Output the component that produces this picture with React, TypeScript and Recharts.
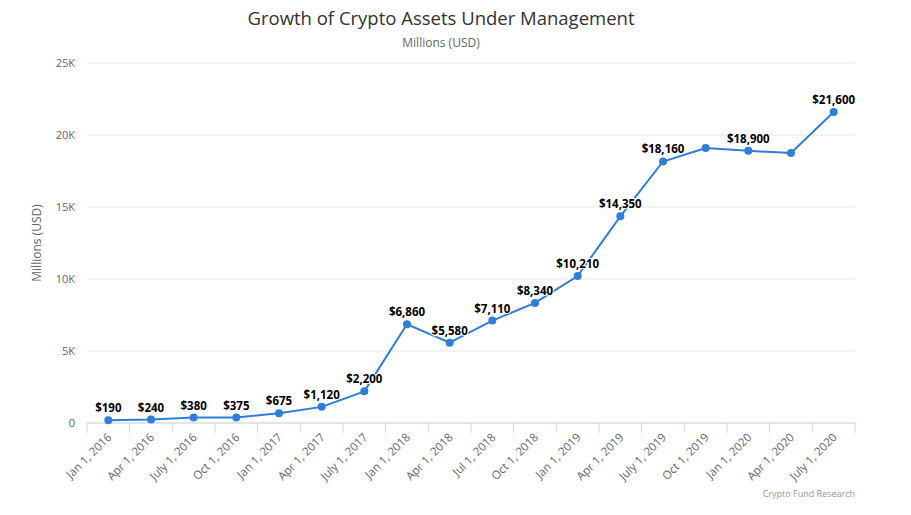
import React from "react";
import { LineChart, Line, XAxis, YAxis, CartesianGrid, LabelList } from "recharts";

const categories = [
  "Jan 1, 2016", "Apr 1, 2016", "July 1, 2016", "Oct 1, 2016",
  "Jan 1, 2017", "Apr 1, 2017", "July 1, 2017", "Jan 1, 2018",
  "Apr 1, 2018", "Jul 1, 2018", "Oct 1, 2018", "Jan 1, 2019",
  "Apr 1, 2019", "July 1, 2019", "Oct 1, 2019", "Jan 1, 2020",
  "Apr 1, 2020", "July 1, 2020",
];

const aum = [
  190, 240, 380, 375, 675, 1120, 2200, 6860, 5580, 7110,
  8340, 10210, 14350, 18160, 19100, 18900, 18750, 21600,
];

// labels hidden where they'd collide with neighbours
const labelShown = [
  true, true, true, true, true, true, true, true, true, true,
  true, true, true, true, false, true, false, true,
];

const yTicks = [0, 5000, 10000, 15000, 20000, 25000];

const data = categories.map((name, i) => ({ name, value: aum[i] }));

const W = 911;
const H = 515;
const M = { top: 63, right: 56, bottom: 91, left: 20 };
const Y_AXIS_W = 67;
const PLOT_LEFT = M.left + Y_AXIS_W;
const PLOT_RIGHT = W - M.right;
const PLOT_BOTTOM = H - M.bottom - 1;
const BAND = (PLOT_RIGHT - PLOT_LEFT) / categories.length;
const FONT = "'Open Sans', 'DejaVu Sans', sans-serif";
const BLUE = "#2f7ed8";

const XTick = (props: any) => {
  const { x, payload, index } = props;
  const half = BAND / 2;
  return (
    <g>
      <line x1={x - half} x2={x - half} y1={PLOT_BOTTOM} y2={PLOT_BOTTOM + 10} stroke="#ccd6eb" />
      {index === categories.length - 1 && (
        <line x1={x + half} x2={x + half} y1={PLOT_BOTTOM} y2={PLOT_BOTTOM + 10} stroke="#ccd6eb" />
      )}
      <text
        transform={`translate(${x + 4},${PLOT_BOTTOM + 15}) rotate(-45)`}
        textAnchor="end"
        fontSize={11.5}
        fill="#666"
        fontFamily={FONT}
      >
        {payload.value}
      </text>
    </g>
  );
};

const PointLabel = (props: any) => {
  const { x, y, value, index } = props;
  if (!labelShown[index]) return null;
  return (
    <text
      x={x}
      y={y - 8}
      textAnchor="middle"
      fontSize={11.5}
      fontWeight="bold"
      fill="#000"
      stroke="#fff"
      strokeWidth={2}
      paintOrder="stroke"
      fontFamily={FONT}
    >
      {"$" + Number(value).toLocaleString("en-US")}
    </text>
  );
};

export default function App() {
  return (
    <div style={{ position: "absolute", left: 0, top: 0, width: W, height: H, background: "#fff", fontFamily: FONT }}>
      <div style={{ position: "absolute", left: 0, width: 882, top: 5, textAlign: "center", fontSize: 18.5, color: "#333" }}>
        Growth of Crypto Assets Under Management
      </div>
      <div style={{ position: "absolute", left: 0, width: 882, top: 34, textAlign: "center", fontSize: 12, color: "#666" }}>
        Millions (USD)
      </div>
      <LineChart width={W} height={H} data={data} margin={M}>
        <CartesianGrid vertical={false} stroke="#e6e6e6" />
        <XAxis
          dataKey="name"
          interval={0}
          tick={<XTick />}
          tickLine={false}
          axisLine={{ stroke: "#ccd6eb" }}
          padding={{ left: BAND / 2, right: BAND / 2 }}
          height={1}
        />
        <YAxis
          width={Y_AXIS_W}
          domain={[0, 25000]}
          ticks={yTicks}
          axisLine={false}
          tickLine={false}
          tickMargin={6}
          tickFormatter={(v: number) => (v === 0 ? "0" : `${v / 1000}K`)}
          tick={{ fontSize: 11, fill: "#666", fontFamily: FONT }}
          label={{
            value: "Millions (USD)",
            angle: -90,
            position: "insideLeft",
            offset: 0,
            dx: 17,
            style: { textAnchor: "middle", fontSize: 12, fill: "#666", fontFamily: FONT },
          }}
        />
        <Line
          type="linear"
          dataKey="value"
          stroke={BLUE}
          strokeWidth={2}
          dot={{ r: 4, fill: BLUE, stroke: BLUE, strokeWidth: 0 }}
          isAnimationActive={false}
        >
          <LabelList dataKey="value" content={<PointLabel />} />
        </Line>
      </LineChart>
      <div style={{ position: "absolute", right: W - PLOT_RIGHT, top: 487, fontSize: 9, color: "#999" }}>
        Crypto Fund Research
      </div>
    </div>
  );
}
